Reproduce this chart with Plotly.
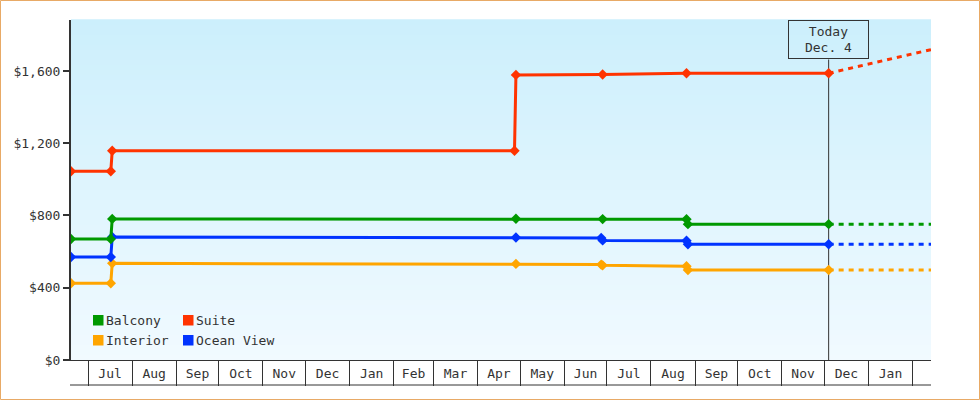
import pandas as pd
import plotly.graph_objects as go

# ---------------- data ----------------
month_labels = ["Jul", "Aug", "Sep", "Oct", "Nov", "Dec", "Jan", "Feb", "Mar", "Apr",
                "May", "Jun", "Jul", "Aug", "Sep", "Oct", "Nov", "Dec", "Jan"]
month_starts = list(pd.date_range("2013-07-01", "2015-02-01", freq="MS"))
y_ticks = [0, 400, 800, 1200, 1600]
y_tick_labels = ["$0", "$400", "$800", "$1,200", "$1,600"]

suite_dates = ["2013-06-19", "2013-07-17", "2013-07-18", "2014-04-27", "2014-04-28",
               "2014-06-28", "2014-08-26", "2014-12-04"]
suite_vals = [1045, 1045, 1158, 1158, 1578, 1580, 1587, 1587]

balcony_dates = ["2013-06-19", "2013-07-17", "2013-07-18", "2014-04-28", "2014-06-28",
                 "2014-08-26", "2014-08-27", "2014-12-04"]
balcony_vals = [670, 670, 781, 782, 780, 779, 752, 752]

ocean_dates = ["2013-06-19", "2013-07-17", "2013-07-18", "2014-04-28", "2014-06-27",
               "2014-06-28", "2014-08-26", "2014-08-27", "2014-12-04"]
ocean_vals = [570, 570, 681, 678, 675, 662, 660, 641, 641]

interior_dates = ["2013-06-19", "2013-07-17", "2013-07-18", "2014-04-28", "2014-06-27",
                  "2014-06-28", "2014-08-26", "2014-08-27", "2014-12-04"]
interior_vals = [425, 425, 535, 532, 528, 524, 519, 498, 498]

suite_fc_dates = ["2014-12-04", "2015-01-10", "2015-02-14"]
suite_fc_vals = [1587, 1654, 1718]
flat_fc_dates = ["2014-12-04", "2015-02-14"]
balcony_fc_vals = [752, 752]
ocean_fc_vals = [641, 641]
interior_fc_vals = [498, 498]

today = "2014-12-04"
today_label = "Today<br>Dec. 4"
x_range = ["2013-06-19", "2015-02-14"]
y_range = [0, 1882]

# ---------------- styling ----------------
FONT = "DejaVu Sans Mono"
TXT = "#333333"
C_BAL = "#009900"
C_SUI = "#ff3300"
C_INT = "#ffa500"
C_OCE = "#0033ff"

W, H = 980, 400
ML, MR, MT, MB = 71, 49, 20, 40
PW, PH = W - ML - MR, H - MT - MB

fig = go.Figure()

series = [
    ("Interior", interior_dates, interior_vals, interior_fc_vals, C_INT, flat_fc_dates),
    ("Ocean View", ocean_dates, ocean_vals, ocean_fc_vals, C_OCE, flat_fc_dates),
    ("Balcony", balcony_dates, balcony_vals, balcony_fc_vals, C_BAL, flat_fc_dates),
    ("Suite", suite_dates, suite_vals, suite_fc_vals, C_SUI, suite_fc_dates),
]
for name, d, v, fv, c, fd in series:
    fig.add_trace(go.Scatter(x=fd, y=fv, mode="lines", name=name + " forecast",
                             line=dict(color=c, width=3, dash="5px,5px"),
                             showlegend=False, hoverinfo="skip"))
for name, d, v, fv, c, fd in series:
    fig.add_trace(go.Scatter(x=d, y=v, mode="lines+markers", name=name,
                             line=dict(color=c, width=3),
                             marker=dict(symbol="diamond", size=8, color=c),
                             showlegend=False))

shapes = []
# gradient background
n = 68
top = (204, 239, 252)
bot = (241, 250, 255)
for i in range(n):
    t = (i + 0.5) / n
    col = tuple(round(bot[k] + (top[k] - bot[k]) * t) for k in range(3))
    shapes.append(dict(type="rect", xref="paper", yref="paper", x0=0, x1=1,
                       y0=i / n, y1=(i + 1) / n + 0.002, layer="below",
                       line=dict(width=0), fillcolor="rgb(%d,%d,%d)" % col))
# today line
shapes.append(dict(type="line", xref="x", yref="paper", x0=today, x1=today,
                   y0=0, y1=(PH - 39.5) / PH, layer="below",
                   line=dict(color=TXT, width=1)))
# bottom line of month cells
shapes.append(dict(type="line", xref="paper", yref="paper", x0=-1 / PW, x1=1,
                   y0=-25 / PH, y1=-25 / PH, line=dict(color=TXT, width=1)))
# outer border
shapes.append(dict(type="rect", xref="paper", yref="paper",
                   x0=-(ML - 0.5) / PW, x1=1 + (MR - 0.5) / PW,
                   y0=-(MB - 0.5) / PH, y1=1 + (MT - 0.5) / PH,
                   line=dict(color="#e8aa66", width=1)))

# legend (swatches + labels)
legend_items = [("Balcony", C_BAL, 0, 0), ("Suite", C_SUI, 1, 0),
                ("Interior", C_INT, 0, 1), ("Ocean View", C_OCE, 1, 1)]
annotations = []
for label, c, col, row in legend_items:
    sx = 93 + col * 90
    sy = 315 + row * 20
    shapes.append(dict(type="rect", xref="paper", yref="paper",
                       x0=(sx - ML) / PW, x1=(sx + 10.5 - ML) / PW,
                       y0=(MT + PH - sy - 10.5) / PH, y1=(MT + PH - sy) / PH,
                       line=dict(width=0), fillcolor=c))
    annotations.append(dict(xref="paper", yref="paper", x=(sx + 11 - ML) / PW,
                            y=(MT + PH - sy - 5) / PH, xanchor="left", yanchor="middle",
                            text=label, showarrow=False,
                            font=dict(family=FONT, size=13, color=TXT)))

annotations.append(dict(xref="x", yref="paper", x=today, y=1, xanchor="center",
                        yanchor="top", text=today_label, showarrow=False,
                        width=77, height=35, borderpad=1, bordercolor=TXT, borderwidth=1,
                        font=dict(family=FONT, size=13, color=TXT)))

tick_mid = [s + (e - s) / 2 for s, e in zip(month_starts[:-1], month_starts[1:])]

fig.update_layout(
    width=W, height=H,
    margin=dict(l=ML, r=MR, t=MT, b=MB, pad=0),
    paper_bgcolor="white", plot_bgcolor="#e0f4fc",
    font=dict(family=FONT, size=13, color=TXT),
    shapes=shapes, annotations=annotations,
    showlegend=False,
    xaxis=dict(type="date", range=x_range, tickmode="array", tickvals=tick_mid,
               ticktext=month_labels, ticks="outside", ticklen=1,
               tickcolor="rgba(0,0,0,0)", showline=True, linecolor=TXT, linewidth=1,
               showgrid=False, zeroline=False,
               tickfont=dict(family=FONT, size=13, color=TXT),
               minor=dict(tickmode="array", tickvals=month_starts, ticks="outside",
                          ticklen=25, tickwidth=1, tickcolor=TXT, showgrid=False)),
    yaxis=dict(range=y_range, tickmode="array", tickvals=y_ticks, ticktext=y_tick_labels,
               ticks="outside", ticklen=6, tickwidth=2, tickcolor=TXT,
               showline=True, linecolor=TXT, linewidth=2, showgrid=False, zeroline=False,
               tickfont=dict(family=FONT, size=13, color=TXT)),
)

fig.write_html("out.html", config={"displayModeBar": False},
               post_script="document.body.style.margin='0px';document.body.style.padding='0px';")
